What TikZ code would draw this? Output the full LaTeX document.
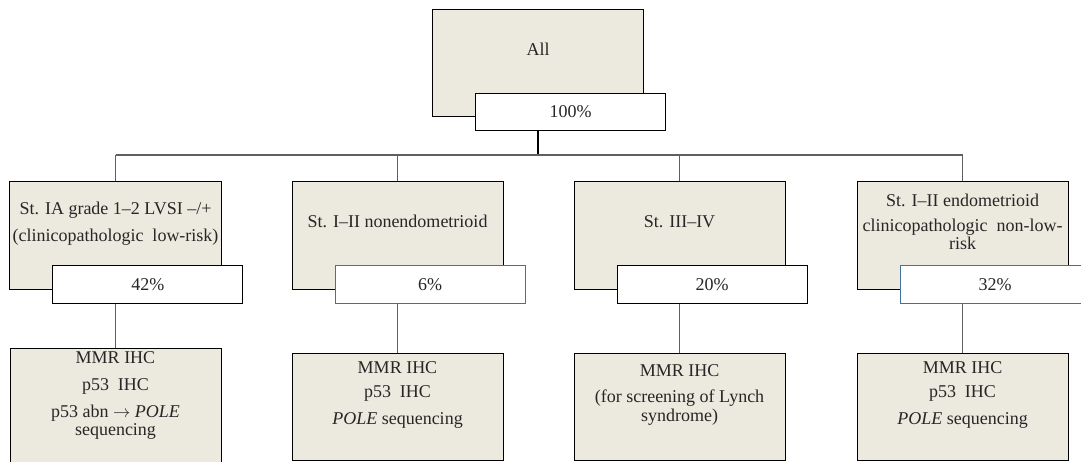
\documentclass[tikz,border=0pt]{standalone}
\usepackage{fontspec}
\setmainfont{Liberation Serif}
\usetikzlibrary{positioning}
\definecolor{boxfill}{RGB}{236,233,223}
\definecolor{pctblue}{RGB}{65,113,156}
\definecolor{wire}{RGB}{95,95,95}

\tikzset{
  grp/.style={draw, line width=1pt, fill=boxfill, minimum width=211pt, minimum height=107pt,
    align=center, font=\fontsize{18}{20}\selectfont, text=black!85, text depth=28pt},
  test/.style={grp, text depth=27pt},
  pct/.style={draw, line width=1pt, fill=white, minimum width=190pt, minimum height=37pt,
    text=black!85, font=\fontsize{18}{20}\selectfont},
  conn/.style={draw=wire, line width=1.2pt}
}

\begin{document}
\begin{tikzpicture}[x=1pt, y=-1pt]
   \useasboundingbox (0,0) rectangle (1081,462);

   % top of the tree
   \node[grp] (g0) at (538,63) {All};
   \node[pct, anchor=north east] (p0) at ([shift={(22,-24)}]g0.south east) {100\%};

   % groups
   \node[grp] (g1) at (115.5,235.5) {St. IA grade 1--2 LVSI --/+\\[7pt](clinicopathologic\ \ low-risk)};
   \node[grp] (g2) at (397.5,235.5) {St. I--II nonendometrioid};
   \node[grp] (g3) at (679.5,235.5) {St. III--IV};
   \node[grp] (g4) at (962.5,235.5) {St. I--II endometrioid\\[5pt]clinicopathologic\ \ non-low-\\[-2pt]risk};

   % percentages
   \node[pct, anchor=north east] (p1) at ([shift={(21,-24)}]g1.south east) {42\%};
   \node[pct, draw=pctblue, anchor=north east] (p2) at ([shift={(22,-24)}]g2.south east) {6\%};
   \node[pct, anchor=north east] (p3) at ([shift={(22,-24)}]g3.south east) {20\%};
   \node[pct, draw=pctblue, anchor=north east] (p4) at ([shift={(22,-24)}]g4.south east) {32\%};

   % tests
   \node[test] (t1) at (115.5,407) {MMR IHC\\[7pt]p53\ \ IHC\\[7pt]p53 abn $\rightarrow$ \textit{POLE}\\[-2pt]sequencing};
   \node[test] (t2) at (397.5,407) {MMR IHC\\[4pt]p53\ \ IHC\\[7pt]\textit{POLE} sequencing};
   \node[test] (t3) at (679.5,407) {MMR IHC\\[6pt](for screening of Lynch\\[-1pt]syndrome)};
   \node[test] (t4) at (962.5,407) {MMR IHC\\[4pt]p53\ \ IHC\\[7pt]\textit{POLE} sequencing};

   \coordinate (bus) at (538,155);

   % connectors
   \draw[line width=2pt] (g0 |- p0.south) -- (g0 |- bus);
   \draw[conn] (g1 |- bus) -- (g4 |- bus);
   \foreach \k in {1,2,3,4} {
     \draw[conn] (g\k |- bus) -- (g\k.north);
     \draw[conn] (g\k |- p\k.south) -- (t\k.north);
   }
\end{tikzpicture}
\end{document}
